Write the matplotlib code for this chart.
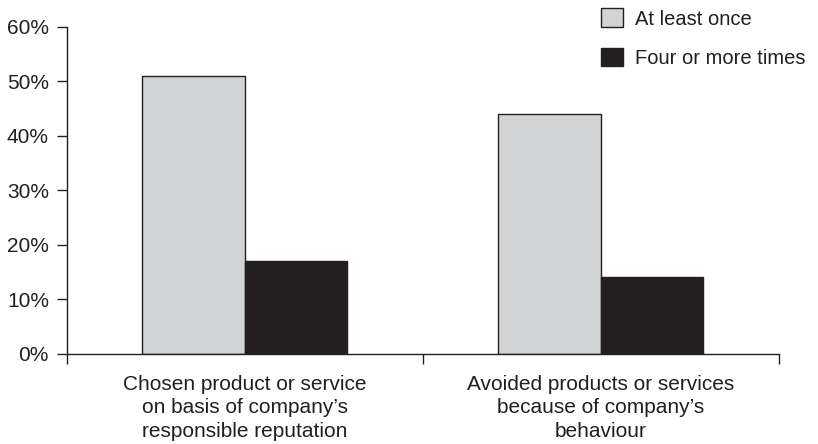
import numpy as np
import matplotlib.pyplot as plt
from matplotlib.ticker import FixedLocator, PercentFormatter

plt.rcParams['font.family'] = ['Liberation Sans', 'DejaVu Sans']
plt.rcParams['text.color'] = '#231f20'

categories = ["Chosen product or service\non basis of company\u2019s\nresponsible reputation",
              "Avoided products or services\nbecause of company\u2019s\nbehaviour"]
at_least_once = [51, 44]
four_or_more = [17, 14]

ink = '#231f20'
fig = plt.figure(figsize=(8.18, 4.44), dpi=100)
ax = fig.add_axes([0.0819, 0.2034, 0.8700, 0.7358])

x = np.arange(len(categories))
w = 0.288
ax.bar(x - w / 2, at_least_once, w, color='#d1d3d4', edgecolor=ink, linewidth=1.0,
       label='At least once')
ax.bar(x + w / 2, four_or_more, w, color=ink, edgecolor=ink, linewidth=1.0,
       label='Four or more times')

ax.set_xlim(-0.5, 1.5)
ax.set_ylim(0, 60)
ax.set_yticks(range(0, 61, 10))
ax.yaxis.set_major_formatter(PercentFormatter(decimals=0))

ax.set_xticks(x)
ax.set_xticklabels(categories, fontsize=15, linespacing=1.3)
ax.tick_params(axis='x', which='major', length=0, pad=15)
ax.xaxis.set_minor_locator(FixedLocator([-0.5, 0.5, 1.5]))
ax.tick_params(axis='x', which='minor', length=7, width=1.0, color=ink)
ax.tick_params(axis='y', length=7, width=1.0, color=ink, labelsize=15, pad=6,
               labelcolor=ink)
ax.tick_params(axis='x', labelcolor=ink)

for s in ['top', 'right']:
    ax.spines[s].set_visible(False)
for s in ['left', 'bottom']:
    ax.spines[s].set_color(ink)
    ax.spines[s].set_linewidth(1.0)

fig.legend(loc='upper left', bbox_to_anchor=(0.713, 1.022), frameon=False,
           fontsize=14.5, handlelength=1.05, handleheight=1.05, handletextpad=0.6,
           labelspacing=0.95)

fig.savefig('out.png', dpi=100)
